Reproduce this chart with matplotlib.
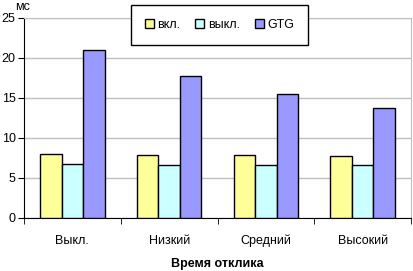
import numpy as np
from matplotlib import pyplot as plt
from matplotlib.patches import Patch

plt.rcParams['font.family'] = ['Liberation Sans', 'DejaVu Sans']

categories = ['Выкл.', 'Низкий', 'Средний', 'Высокий']
series_names = ['вкл.', 'выкл.', 'GTG']
vkl = [8.0, 7.9, 7.85, 7.75]
vykl = [6.75, 6.6, 6.6, 6.6]
gtg = [21.0, 17.8, 15.5, 13.7]
colors = ['#FFFF99', '#CCFFFF', '#9999FF']

fig = plt.figure(figsize=(4.13, 2.71), dpi=100)
ax = fig.add_axes([24 / 413, 53 / 271, 387 / 413, 200 / 271])

x = np.arange(len(categories))
w = 1 / 4.5
for i, (vals, c) in enumerate(zip([vkl, vykl, gtg], colors)):
    ax.bar(x + (i - 1) * w, vals, w, color=c, edgecolor='black', linewidth=1, zorder=3)

ax.set_xlim(-0.5, 3.5)
ax.set_ylim(0, 25)
ax.set_yticks(range(0, 26, 5))
ax.yaxis.grid(True, color='#C0C0C0', linewidth=1, zorder=0)
ax.set_xticks(x)
ax.set_xticklabels(categories, fontsize=9)
ax.set_xticks(np.arange(-0.5, 4, 1), minor=True)
ax.tick_params(axis='x', which='major', length=0, pad=12)
ax.tick_params(axis='x', which='minor', length=4, direction='out')
ax.tick_params(axis='y', length=4, direction='out', labelsize=9, pad=2)
for s in ['top', 'right']:
    ax.spines[s].set_color('#C0C0C0')
ax.spines['left'].set_color('black')
ax.spines['bottom'].set_color('black')

ax.set_xlabel('Время отклика', fontsize=9, fontweight='bold', labelpad=8)
fig.text(15 / 413, 1 - 10 / 271, 'мс', fontsize=9)

handles = [Patch(facecolor=c, edgecolor='black') for c in colors]
leg = fig.legend(handles, series_names, loc='upper left',
                 bbox_to_anchor=(131 / 413, 1 - 5 / 271), ncol=3, fontsize=9,
                 handlelength=0.7, handleheight=0.7, handletextpad=0.3,
                 columnspacing=1.2, borderpad=1.1, borderaxespad=0,
                 fancybox=False, framealpha=1)
leg.get_frame().set_edgecolor('black')
leg.get_frame().set_linewidth(1)

fig.savefig('out.png', dpi=100)
